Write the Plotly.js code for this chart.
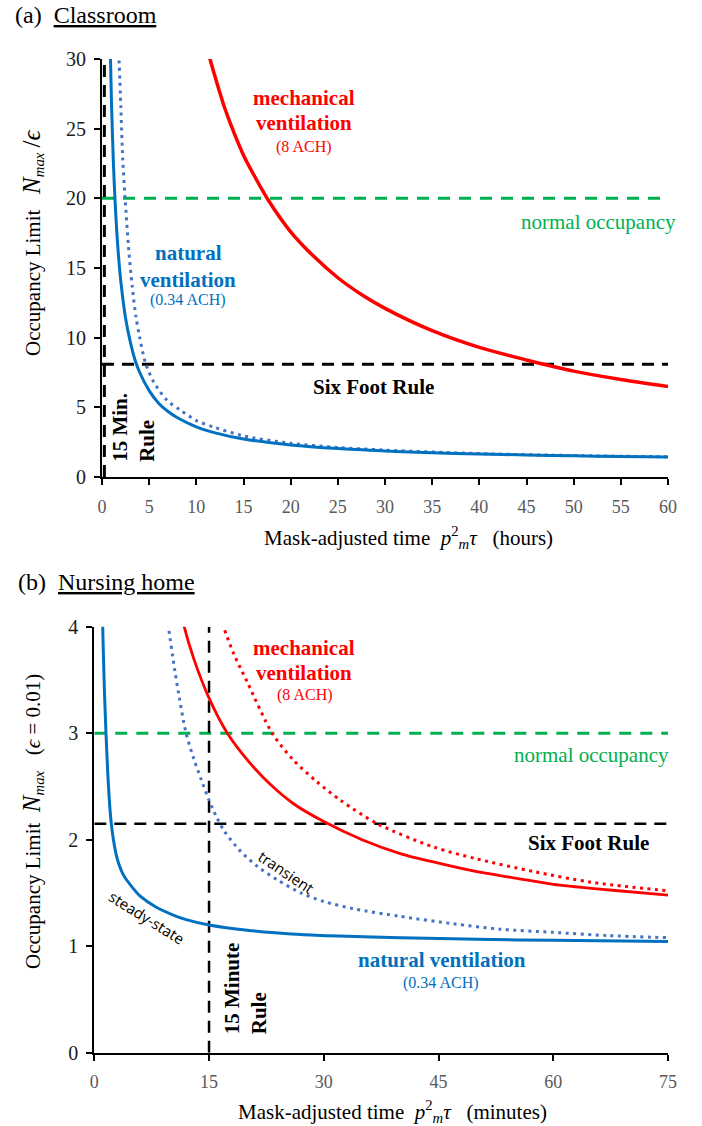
<!DOCTYPE html>
<html>
<head>
<meta charset="utf-8">
<script src="https://cdn.plot.ly/plotly-3.0.1.min.js"></script>
<style>html,body{margin:0;padding:0;background:#fff;}#chart{width:702px;height:1126px;}</style>
</head>
<body>
<div id="chart"></div>
<script>
// ---------- (a) Classroom : time in hours ----------
const topTicksX = [0, 5, 10, 15, 20, 25, 30, 35, 40, 45, 50, 55, 60];
const topTicksY = [0, 5, 10, 15, 20, 25, 30];
const natSteadyTopX = [0.85, 1.0, 1.2, 1.4, 1.7, 2.0, 2.5, 3.0, 3.5, 4.0, 5.0, 6.0, 7.0, 8.0, 10, 12, 15, 20, 25, 30, 35, 40, 45, 50, 55, 60];
const natSteadyTopY = [31.5, 27.0, 22.7, 19.6, 16.3, 14.0, 11.4, 9.7, 8.4, 7.5, 6.2, 5.3, 4.7, 4.25, 3.6, 3.17, 2.73, 2.3, 2.04, 1.87, 1.74, 1.65, 1.58, 1.52, 1.47, 1.43];
const natTransTopX = [1.75, 2.0, 2.2, 2.45, 2.8, 3.2, 3.6, 4.0, 4.6, 5.5, 6.9, 8.3, 10, 12, 15, 20, 25, 30, 40, 50, 60];
const natTransTopY = [31, 26.5, 22.8, 20, 16.6, 13.7, 11.5, 10.0, 8.2, 6.8, 5.5, 4.8, 4.05, 3.55, 2.95, 2.42, 2.12, 1.93, 1.68, 1.54, 1.45];
const mechTopX = [11.0, 11.45, 12, 13, 14, 15, 16, 17.6, 20, 22.5, 25, 27.5, 30, 35, 40, 45, 50, 55, 60];
const mechTopY = [31.2, 30.0, 28.7, 26.5, 24.7, 23.1, 21.8, 19.9, 17.6, 15.8, 14.3, 13.1, 12.1, 10.5, 9.3, 8.4, 7.6, 7.0, 6.5];
const normalOccTop = 20;
const sixFootTop = 8.1;
const fifteenMinTop = 0.25;

// ---------- (b) Nursing home : time in minutes ----------
const botTicksX = [0, 15, 30, 45, 60, 75];
const botTicksY = [0, 1, 2, 3, 4];
const natSteadyBotX = [1.05, 1.1, 1.3, 1.53, 1.8, 2.15, 2.5, 3.0, 3.8, 5, 6, 8, 10.4, 12, 15, 20, 27, 32, 40, 50, 60, 75];
const natSteadyBotY = [4.2, 4.0, 3.45, 3.0, 2.57, 2.2, 2.0, 1.82, 1.67, 1.55, 1.47, 1.37, 1.29, 1.25, 1.2, 1.15, 1.11, 1.095, 1.08, 1.065, 1.055, 1.045];
const natTransBotX = [9.6, 9.7, 10.5, 11, 12, 13, 14, 15, 16, 17, 19, 21.3, 24, 27, 30, 34, 40, 47, 53, 60, 67, 75];
const natTransBotY = [4.1, 4.0, 3.6, 3.38, 3.0, 2.76, 2.56, 2.37, 2.21, 2.08, 1.9, 1.75, 1.62, 1.5, 1.42, 1.35, 1.28, 1.21, 1.16, 1.13, 1.1, 1.08];
const mechSteadyBotX = [11.3, 11.75, 13, 15, 17.4, 20, 23, 26, 30, 35, 40, 45, 50, 55, 60, 67, 75];
const mechSteadyBotY = [4.15, 4.0, 3.7, 3.33, 3.0, 2.75, 2.52, 2.34, 2.17, 2.0, 1.87, 1.78, 1.7, 1.64, 1.58, 1.53, 1.48];
const mechTransBotX = [16.5, 16.9, 18.2, 20, 23.25, 26, 29, 32.2, 37, 44.4, 50, 57.5, 65, 75];
const mechTransBotY = [4.1, 4.0, 3.75, 3.48, 3.0, 2.75, 2.55, 2.37, 2.15, 1.93, 1.82, 1.70, 1.6, 1.52];
const normalOccBot = 3;
const sixFootBot = 2.15;
const fifteenMinBot = 15;

const RED = '#FF0000', BLUE = '#0070C0', BLUED = '#4472C4', GREEN = '#00B050';
const SERIF = 'Liberation Serif, Times New Roman, serif';
const SANS = 'Open Sans, Noto Sans, sans-serif';

function first(a){return a[0];}
function last(a){return a[a.length-1];}

const traces = [];
function line(x, y, color, width, dash, ax, shape){
  traces.push({x:x, y:y, mode:'lines', type:'scatter', hoverinfo:'skip', showlegend:false,
    xaxis: ax==='b' ? 'x2':'x', yaxis: ax==='b' ? 'y2':'y',
    line:{color:color, width:width, dash:dash||'solid', shape: shape||'linear', smoothing:0.8}});
}
// top reference lines
line([first(topTicksX), last(topTicksX)], [normalOccTop, normalOccTop], GREEN, 3, '12px,9px', 't');
line([first(topTicksX), last(topTicksX)], [sixFootTop, sixFootTop], 'black', 3, '12px,8px', 't');
line([fifteenMinTop, fifteenMinTop], [first(topTicksY), last(topTicksY)], 'black', 3, '12px,8px', 't');
// top curves
line(mechTopX, mechTopY, RED, 3.5, 'solid', 't', 'spline');
line(natTransTopX, natTransTopY, BLUED, 3, '3px,4.5px', 't', 'spline');
line(natSteadyTopX, natSteadyTopY, BLUE, 3, 'solid', 't', 'spline');
// bottom reference lines
line([first(botTicksX), last(botTicksX)], [normalOccBot, normalOccBot], GREEN, 3, '12px,9px', 'b');
line([first(botTicksX), last(botTicksX)], [sixFootBot, sixFootBot], 'black', 2.5, '12px,8px', 'b');
line([fifteenMinBot, fifteenMinBot], [first(botTicksY), last(botTicksY)], 'black', 2.5, '12px,8px', 'b');
// bottom curves
line(mechTransBotX, mechTransBotY, RED, 3, '3px,4.5px', 'b', 'spline');
line(mechSteadyBotX, mechSteadyBotY, RED, 2.8, 'solid', 'b', 'spline');
line(natTransBotX, natTransBotY, BLUED, 3, '3px,4.5px', 'b', 'spline');
line(natSteadyBotX, natSteadyBotY, BLUE, 3, 'solid', 'b', 'spline');

function axisX(ticks, domain, anchor){
  return {domain:domain, anchor:anchor, range:[first(ticks), last(ticks)], tickvals:ticks, ticktext:ticks.map(String),
    showline:true, linecolor:'black', linewidth:2, ticks:'outside', ticklen:6, tickwidth:2, tickcolor:'black',
    showgrid:false, zeroline:false, fixedrange:true, ticklabelstandoff:6,
    tickfont:{family:SERIF, size:18, color:'#595959'}};
}
function axisY(ticks, domain, anchor){
  return {domain:domain, anchor:anchor, range:[first(ticks), last(ticks)], tickvals:ticks, ticktext:ticks.map(String),
    showline:true, linecolor:'black', linewidth:2, ticks:'outside', ticklen:6, tickwidth:2, tickcolor:'black',
    showgrid:false, zeroline:false, fixedrange:true, ticklabelstandoff:4,
    tickfont:{family:SERIF, size:20, color:'#1a1a1a'}};
}

const W = 702, H = 1126;
const px = v => v / W, py = v => 1 - v / H;

const ann = [];
function A(o){ ann.push(Object.assign({showarrow:false, xanchor:'center', yanchor:'middle'}, o)); }
const nb = '\u00a0';

// titles
A({xref:'paper', yref:'paper', x:px(13), y:py(15), xanchor:'left', text:'(a)'+nb+nb+'<u>Classroom</u>', font:{family:SERIF, size:24, color:'black'}});
A({xref:'paper', yref:'paper', x:px(16), y:py(582), xanchor:'left', text:'(b)'+nb+nb+'<u>Nursing home</u>', font:{family:SERIF, size:24, color:'black'}});
// axis titles
A({xref:'paper', yref:'paper', x:px(262), y:py(537), xanchor:'left',
   text:'Mask-adjusted time'+nb+nb+'<i>p</i><sup>2</sup><sub><i>m</i></sub><i>τ</i>'+nb+nb+nb+'(hours)', font:{family:SERIF, size:21, color:'black'}});
A({xref:'paper', yref:'paper', x:px(236), y:py(1111), xanchor:'left',
   text:'Mask-adjusted time'+nb+nb+'<i>p</i><sup>2</sup><sub><i>m</i></sub><i>τ</i>'+nb+nb+nb+'(minutes)', font:{family:SERIF, size:21, color:'black'}});
A({xref:'paper', yref:'paper', x:px(32), y:py(243), textangle:-90,
   text:'Occupancy Limit'+nb+nb+nb+'<span style="font-size:25px"><i>N</i></span><sub><i>max</i></sub>'+nb+'<span style="font-size:25px">/<i>ϵ</i></span>', font:{family:SERIF, size:21, color:'black'}});
A({xref:'paper', yref:'paper', x:px(32), y:py(822), textangle:-90,
   text:'Occupancy Limit'+nb+nb+'<span style="font-size:25px"><i>N</i></span><sub><i>max</i></sub>'+nb+nb+nb+'(<i>ϵ</i> = 0.01)', font:{family:SERIF, size:21, color:'black'}});

// top annotations
A({xref:'x', yref:'y', x:21.4, y:27.2, text:'<b>mechanical</b>', font:{family:SERIF, size:21, color:RED}});
A({xref:'x', yref:'y', x:21.4, y:25.4, text:'<b>ventilation</b>', font:{family:SERIF, size:21, color:RED}});
A({xref:'x', yref:'y', x:21.4, y:23.7, text:'(8 ACH)', font:{family:SERIF, size:16, color:RED}});
A({xref:'x', yref:'y', x:60, xshift:10, y:18.33, xanchor:'right', text:'normal occupancy', font:{family:SERIF, size:21, color:GREEN}});
A({xref:'x', yref:'y', x:9.12, y:16.06, text:'<b>natural</b>', font:{family:SERIF, size:21, color:BLUE}});
A({xref:'x', yref:'y', x:9.12, y:14.14, text:'<b>ventilation</b>', font:{family:SERIF, size:21, color:BLUE}});
A({xref:'x', yref:'y', x:9.12, y:12.7, text:'(0.34 ACH)', font:{family:SERIF, size:16, color:BLUE}});
A({xref:'x', yref:'y', x:28.76, y:6.48, text:'<b>Six Foot Rule</b>', font:{family:SERIF, size:21, color:'black'}});
A({xref:'x', yref:'y', x:3.32, y:3.55, textangle:-90, align:'left', text:'<b>15 Min.</b><br><b>Rule</b>', font:{family:SERIF, size:21, color:'black'}});

// bottom annotations
A({xref:'x2', yref:'y2', x:27.4, y:3.80, text:'<b>mechanical</b>', font:{family:SERIF, size:21, color:RED}});
A({xref:'x2', yref:'y2', x:27.4, y:3.565, text:'<b>ventilation</b>', font:{family:SERIF, size:21, color:RED}});
A({xref:'x2', yref:'y2', x:27.5, y:3.36, text:'(8 ACH)', font:{family:SERIF, size:16, color:RED}});
A({xref:'x2', yref:'y2', x:75, xshift:3, y:2.795, xanchor:'right', text:'normal occupancy', font:{family:SERIF, size:21, color:GREEN}});
A({xref:'x2', yref:'y2', x:64.6, y:1.97, text:'<b>Six Foot Rule</b>', font:{family:SERIF, size:21, color:'black'}});
A({xref:'x2', yref:'y2', x:45.4, y:0.87, text:'<b>natural ventilation</b>', font:{family:SERIF, size:21, color:BLUE}});
A({xref:'x2', yref:'y2', x:45.3, y:0.654, text:'(0.34 ACH)', font:{family:SERIF, size:16, color:BLUE}});
A({xref:'x2', yref:'y2', x:25.1, y:1.70, textangle:34, text:'transient', font:{family:SANS, size:15, color:'black'}});
A({xref:'x2', yref:'y2', x:6.77, y:1.27, textangle:32, text:'steady-state', font:{family:SANS, size:15, color:'black'}});
A({xref:'x2', yref:'y2', x:19.7, y:0.605, textangle:-90, align:'left', text:'<b>15 Minute</b><br><b>Rule</b>', font:{family:SERIF, size:21, color:'black'}});

const layout = {
  width:W, height:H, margin:{l:0, r:0, t:0, b:0}, paper_bgcolor:'white', plot_bgcolor:'white',
  showlegend:false,
  xaxis: axisX(topTicksX, [px(102), px(668)], 'y'),
  yaxis: axisY(topTicksY, [py(477), py(59)], 'x'),
  xaxis2: axisX(botTicksX, [px(94.3), px(668)], 'y2'),
  yaxis2: axisY(botTicksY, [py(1052.7), py(626.7)], 'x2'),
  annotations: ann
};
Plotly.newPlot('chart', traces, layout, {staticPlot:true, displayModeBar:false});
</script>
</body>
</html>
